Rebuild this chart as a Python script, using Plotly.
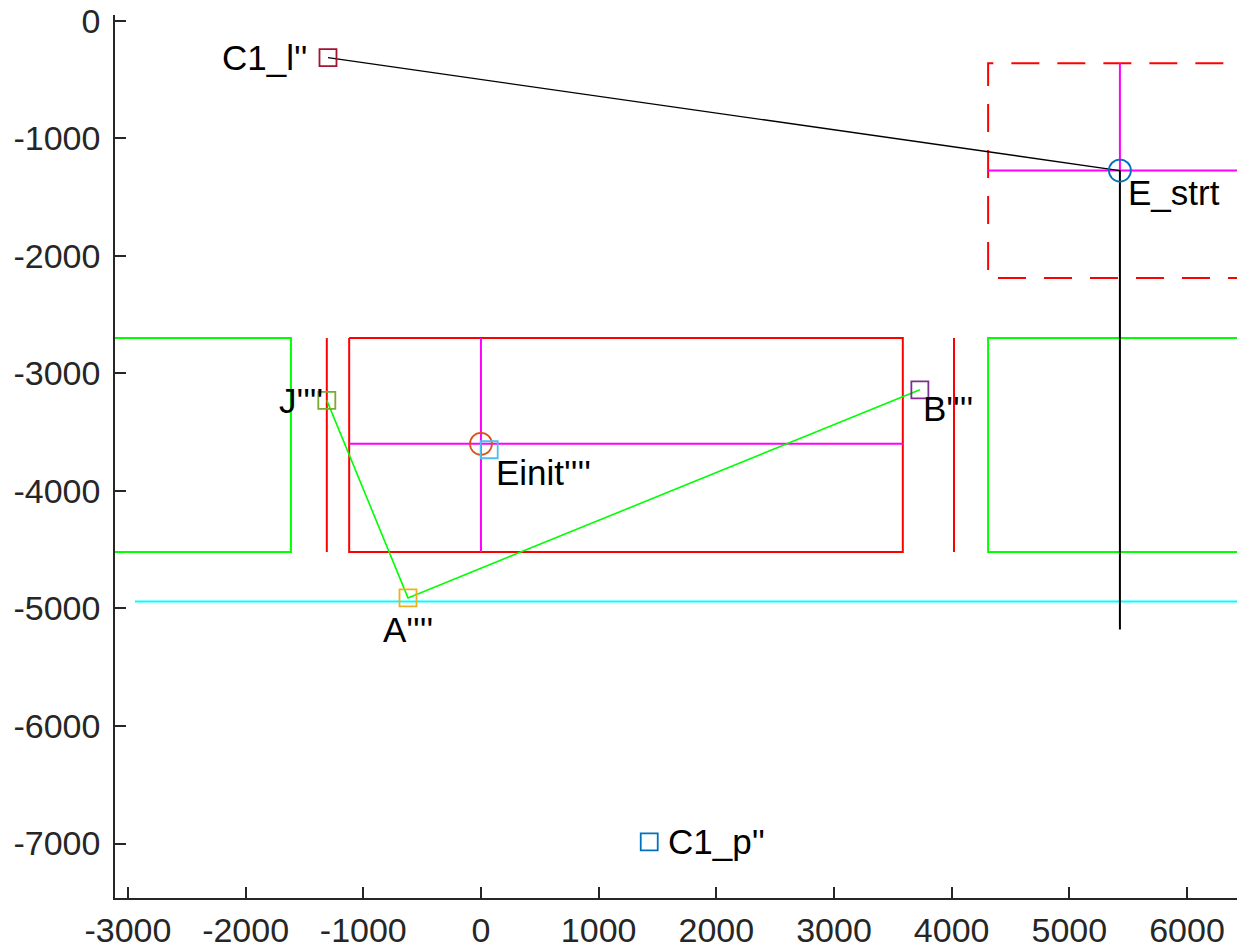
import plotly.graph_objects as go

# ---- geometry of the scene (data units) ----
# corridor walls (green), left and right blocks
wall_left_x = [-3400, -1615, -1615, -3400]
wall_left_y = [-2700, -2700, -4520, -4520]
wall_right_x = [6700, 4310, 4310, 6700]
wall_right_y = [-2700, -2700, -4520, -4520]

# red posts either side of the box
post_x = [-1310, -1310, None, 4020, 4020]
post_y = [-2700, -4520, None, -2700, -4520]

# red box with its magenta centre cross
box_x = [-1120, 3585, 3585, -1120, -1120]
box_y = [-2700, -2700, -4520, -4520, -2700]
box_cross_x = [0, 0, None, -1120, 3585]
box_cross_y = [-2700, -4520, None, -3600, -3600]

# cyan reference line
ref_x = [-2940, 6700]
ref_y = [-4940, -4940]

# dashed target zone and its magenta cross
zone_x = [6700, 4310, 4310, 6700]
zone_y = [-362, -362, -2190, -2190]
zone_cross_x = [5430, 5430, None, 4310, 6700]
zone_cross_y = [-362, -1275, None, -1275, -1275]

# black drop line below E_strt
drop_x = [5430, 5430]
drop_y = [-1275, -5180]

# labelled points
pt_names = ["C1_l''", "E_strt", "J''''", "A''''", "B''''", "Einit''''", "C1_p''"]
pt_x = [-1300, 5430, -1310, -620, 3730, 70, 1430]
pt_y = [-315, -1275, -3230, -4910, -3140, -3650, -6985]
pt_symbol = ["square-open", "circle-open", "square-open", "square-open",
             "square-open", "square-open", "square-open"]
pt_color = ["#A2142F", "#0072BD", "#77AC30", "#EDB120", "#7E2F8E", "#4DBEEE", "#0072BD"]

# origin circle of Einit
origin_x = [0]
origin_y = [-3600]

# label placement: (xanchor, xshift px, yshift px)
label_place = [("right", -19, 0), ("left", 6, -22), ("right", -2, 0),
               ("center", 0, -32), ("left", 1, -19), ("left", 13, -29),
               ("left", 17, 0)]

x_ticks = [-3000, -2000, -1000, 0, 1000, 2000, 3000, 4000, 5000, 6000]
x_tick_text = ["-3000", "-2000", "-1000", "0", "1000", "2000", "3000", "4000", "5000", "6000"]
y_ticks = [-7000, -6000, -5000, -4000, -3000, -2000, -1000, 0]
y_tick_text = ["-7000", "-6000", "-5000", "-4000", "-3000", "-2000", "-1000", "0"]

fig = go.Figure()


def add_line(xs, ys, color, width=2.0, dash=None):
    fig.add_trace(go.Scatter(
        x=xs, y=ys, mode="lines", hoverinfo="skip", showlegend=False,
        line=dict(color=color, width=width, dash=dash)))


add_line(wall_left_x, wall_left_y, "#00FF00")
add_line(wall_right_x, wall_right_y, "#00FF00")
add_line(post_x, post_y, "#FF0000")
add_line(box_x, box_y, "#FF0000")
add_line(box_cross_x, box_cross_y, "#FF00FF")
add_line(ref_x, ref_y, "#00FFFF")
add_line(zone_x, zone_y, "#FF0000", dash="28px,18px")
add_line(zone_cross_x, zone_cross_y, "#FF00FF")
add_line(drop_x, drop_y, "#000000", width=2.0)

# link from C1_l'' to E_strt
add_line([pt_x[0], pt_x[1]], [pt_y[0], pt_y[1]], "#000000", width=1.3)
# path J -> A -> B
add_line([pt_x[2], pt_x[3], pt_x[4]], [pt_y[2], pt_y[3], pt_y[4]], "#00FF00", width=1.6)

fig.add_trace(go.Scatter(
    x=origin_x, y=origin_y, mode="markers", hoverinfo="skip", showlegend=False,
    marker=dict(symbol="circle-open", size=22, color="#D95319", line=dict(width=1.8))))

for i in range(len(pt_names)):
    size = 22 if pt_symbol[i] == "circle-open" else 17
    fig.add_trace(go.Scatter(
        x=[pt_x[i]], y=[pt_y[i]], mode="markers", hoverinfo="skip", showlegend=False,
        marker=dict(symbol=pt_symbol[i], size=size, color=pt_color[i],
                    line=dict(width=1.8, color=pt_color[i]))))

for i, name in enumerate(pt_names):
    anchor, dx, dy = label_place[i]
    ax_x = origin_x[0] if name.startswith("Einit") else pt_x[i]
    ax_y = origin_y[0] if name.startswith("Einit") else pt_y[i]
    fig.add_annotation(
        x=ax_x, y=ax_y, text=name, showarrow=False,
        xanchor=anchor, yanchor="middle", xshift=dx, yshift=dy,
        font=dict(family="Liberation Sans, Arial", size=35, color="#000000"))

axis_common = dict(
    showgrid=False, zeroline=False, showline=True, linecolor="#262626", linewidth=1.6,
    ticks="inside", ticklen=11, tickwidth=1.5, tickcolor="#262626", mirror=False,
    automargin=False,
    tickfont=dict(family="Liberation Sans, Arial", size=34, color="#262626"),
)

fig.update_layout(
    width=1245, height=952,
    margin=dict(l=115, r=8, t=15, b=54),
    paper_bgcolor="white", plot_bgcolor="white",
    xaxis=dict(range=[-3110, 6425], tickvals=x_ticks, ticktext=x_tick_text,
               ticklabelstandoff=1, **axis_common),
    yaxis=dict(range=[-7463, 48], tickvals=y_ticks, ticktext=y_tick_text,
               ticklabelstandoff=6, **axis_common),
)

fig.write_html("out.html")
